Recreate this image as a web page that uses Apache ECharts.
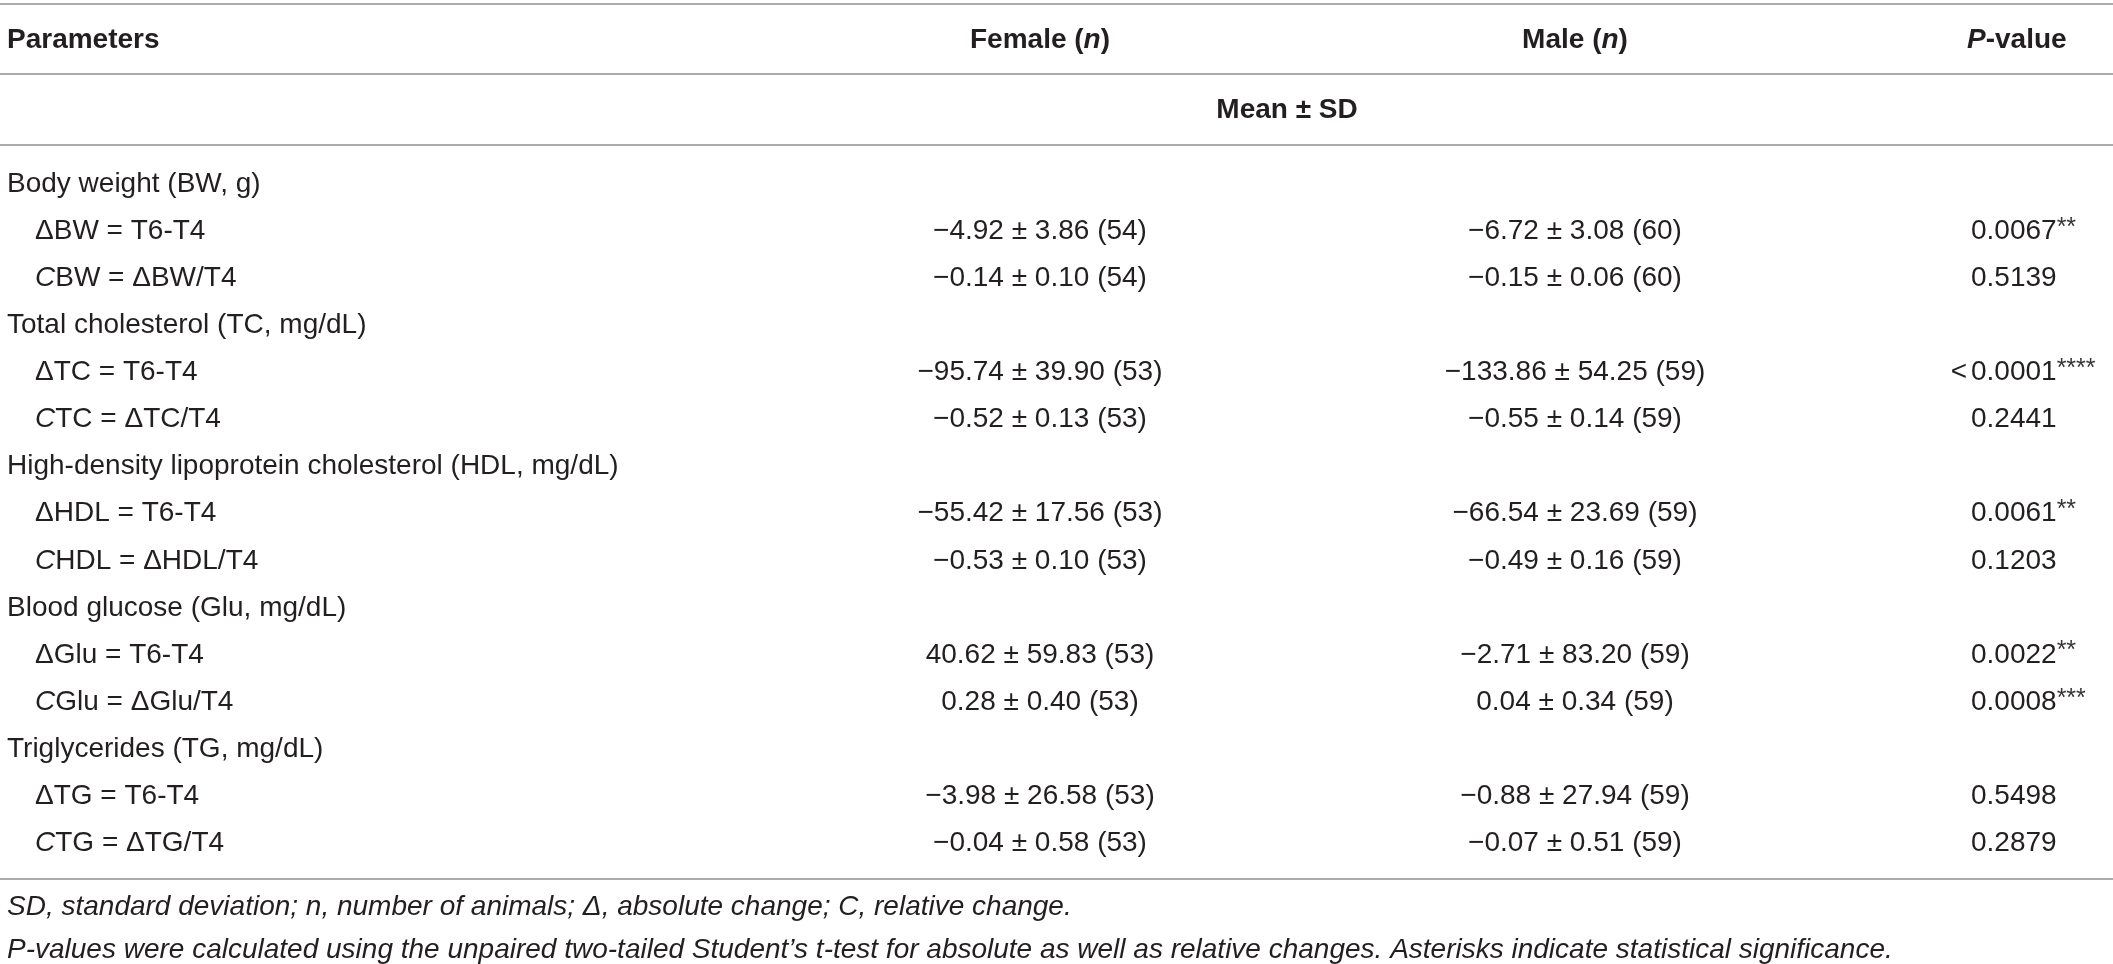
<!DOCTYPE html>
<html>
<head>
<meta charset="utf-8">
<title>Changes T6-T4 by sex</title>
<script src="https://cdn.jsdelivr.net/npm/echarts@6/dist/echarts.min.js"></script>
<style>
  html, body { margin: 0; padding: 0; background: #fff; }
  #chart { width: 2113px; height: 964px; }
</style>
</head>
<body>
<div id="chart"></div>
<script>
// table rows ({i|..} = italic part)
const paramRows = [
  'Body weight (BW, g)',
  'ΔBW = T6-T4',
  '{i|C}BW = ΔBW/T4',
  'Total cholesterol (TC, mg/dL)',
  'ΔTC = T6-T4',
  '{i|C}TC = ΔTC/T4',
  'High-density lipoprotein cholesterol (HDL, mg/dL)',
  'ΔHDL = T6-T4',
  '{i|C}HDL = ΔHDL/T4',
  'Blood glucose (Glu, mg/dL)',
  'ΔGlu = T6-T4',
  '{i|C}Glu = ΔGlu/T4',
  'Triglycerides (TG, mg/dL)',
  'ΔTG = T6-T4',
  '{i|C}TG = ΔTG/T4'
];
const femaleMean = [null, -4.92, -0.14, null, -95.74, -0.52, null, -55.42, -0.53, null, 40.62, 0.28, null, -3.98, -0.04];
const femaleSD   = [null, 3.86, 0.10, null, 39.90, 0.13, null, 17.56, 0.10, null, 59.83, 0.40, null, 26.58, 0.58];
const femaleN    = [null, 54, 54, null, 53, 53, null, 53, 53, null, 53, 53, null, 53, 53];
const maleMean   = [null, -6.72, -0.15, null, -133.86, -0.55, null, -66.54, -0.49, null, -2.71, 0.04, null, -0.88, -0.07];
const maleSD     = [null, 3.08, 0.06, null, 54.25, 0.14, null, 23.69, 0.16, null, 83.20, 0.34, null, 27.94, 0.51];
const maleN      = [null, 60, 60, null, 59, 59, null, 59, 59, null, 59, 59, null, 59, 59];
const pPrefix    = ['', '', '', '', '<', '', '', '', '', '', '', '', '', '', ''];
const pValue     = ['', '0.0067', '0.5139', '', '0.0001', '0.2441', '', '0.0061', '0.1203', '', '0.0022', '0.0008', '', '0.5498', '0.2879'];
const pStars     = ['', '**', '', '', '****', '', '', '**', '', '', '**', '***', '', '', ''];

const footnotes = [
  'SD, standard deviation; n, number of animals; Δ, absolute change; C, relative change.',
  'P-values were calculated using the unpaired two-tailed Student\u2019s t-test for absolute as well as relative changes. Asterisks indicate statistical significance.'
];

// layout
const W = 2113;
const FONT = '"Liberation Sans", Arial, Helvetica, sans-serif';
const INK = '#231f20';
const RULE = '#ababab';
const FS = 28;
const colX = { group: 7, sub: 35, female: 1040, male: 1575, p: 1971 };
const rowTop = 160.5, rowH = 47.1;

function fmt(m, s, n) {
  const sign = m < 0 ? '\u2212' : '';
  return sign + Math.abs(m).toFixed(2) + ' \u00b1 ' + s.toFixed(2) + ' (' + n + ')';
}

const baseStyle = { fill: INK, fontFamily: FONT, fontSize: FS, verticalAlign: 'middle' };
const richParts = {
  i: { fontStyle: 'italic', fontFamily: FONT, fontSize: FS, fill: INK },
  bi: { fontStyle: 'italic', fontWeight: 'bold', fontFamily: FONT, fontSize: FS, fill: INK },
  b: { fontWeight: 'bold', fontFamily: FONT, fontSize: FS, fill: INK },
  p: { fontFamily: FONT, fontSize: FS, fill: INK, lineHeight: 32 },
  s: { fontFamily: FONT, fontSize: 25, fill: '#3a3637', lineHeight: 25, verticalAlign: 'top' }
};

function renderRow(params, api) {
  const i = api.value(1);
  const y = api.coord([0, i])[1];
  const sub = femaleMean[i] != null;
  const kids = [{
    type: 'text',
    x: api.coord([sub ? colX.sub : colX.group, i])[0],
    y: y,
    style: Object.assign({}, baseStyle, { text: paramRows[i], align: 'left', rich: richParts })
  }];
  if (sub) {
    kids.push({
      type: 'text', x: api.coord([colX.female, i])[0], y: y,
      style: Object.assign({}, baseStyle, { text: fmt(femaleMean[i], femaleSD[i], femaleN[i]), align: 'center' })
    });
    kids.push({
      type: 'text', x: api.coord([colX.male, i])[0], y: y,
      style: Object.assign({}, baseStyle, { text: fmt(maleMean[i], maleSD[i], maleN[i]), align: 'center' })
    });
    const px = api.coord([colX.p, i])[0];
    const pt = '{p|' + pValue[i] + '}' + (pStars[i] ? '{s|' + pStars[i] + '}' : '');
    kids.push({
      type: 'text', x: px, y: y,
      style: Object.assign({}, baseStyle, { text: pt, align: 'left', rich: richParts })
    });
    if (pPrefix[i]) {
      // "<" hangs left of the number column
      kids.push({
        type: 'text', x: px - 4, y: y,
        style: Object.assign({}, baseStyle, { text: pPrefix[i], align: 'right' })
      });
    }
  }
  return { type: 'group', children: kids };
}

function rule(y) {
  return { type: 'line', silent: true, shape: { x1: 0, y1: y, x2: W, y2: y }, style: { stroke: RULE, lineWidth: 2 } };
}
function label(x, y, text, align, extra) {
  return {
    type: 'text', x: x, y: y, silent: true,
    style: Object.assign({}, baseStyle, { text: text, align: align, rich: richParts }, extra || {})
  };
}

const chart = echarts.init(document.getElementById('chart'));
chart.setOption({
  animation: false,
  backgroundColor: '#fff',
  grid: { left: 0, right: 0, top: rowTop, height: rowH * paramRows.length },
  xAxis: { type: 'value', min: 0, max: W, show: false },
  yAxis: {
    type: 'category', inverse: true, show: false,
    data: paramRows.map((r, i) => i)
  },
  series: [{
    type: 'custom',
    silent: true,
    renderItem: renderRow,
    data: paramRows.map((r, i) => [0, i])
  }],
  graphic: [
    rule(4), rule(74), rule(145), rule(879),
    label(colX.group, 40, 'Parameters', 'left', { fontWeight: 'bold' }),
    label(colX.female, 40, '{b|Female (}{bi|n}{b|)}', 'center'),
    label(colX.male, 40, '{b|Male (}{bi|n}{b|)}', 'center'),
    label(1967, 40, '{bi|P}{b|-value}', 'left'),
    label(1287, 110, 'Mean \u00b1 SD', 'center', { fontWeight: 'bold' }),
    label(colX.group, 907, footnotes[0], 'left', { fontStyle: 'italic' }),
    label(colX.group, 950, footnotes[1], 'left', { fontStyle: 'italic' })
  ]
});
</script>
</body>
</html>
